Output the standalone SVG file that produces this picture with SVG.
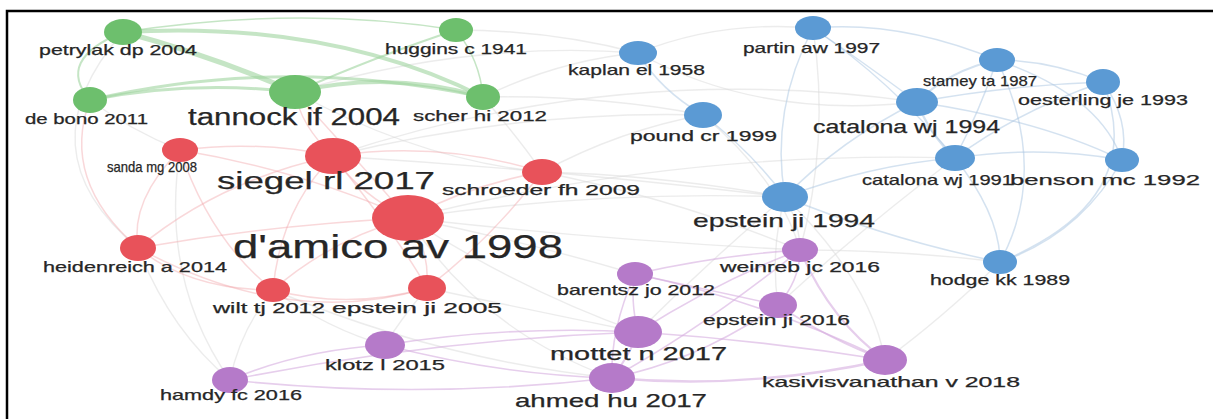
<svg xmlns="http://www.w3.org/2000/svg" width="1215" height="419" viewBox="0 0 1215 419">
  <style>
    text { font-family: "Liberation Sans", Arial, sans-serif; fill: #262626; stroke: #262626; stroke-width: 0.25; }
    .s { font-size: 14.5px; }
    .m { font-size: 19px; }
    .l { font-size: 23px; }
    .xl { font-size: 34px; }
    .e { fill: none; stroke-linecap: round; }
    .eg { stroke: #9fd49f; stroke-opacity: 0.6; }
    .er { stroke: #f2a9ad; stroke-opacity: 0.45; stroke-width: 1.5; }
    .eb { stroke: #a9c6e2; stroke-opacity: 0.5; stroke-width: 1.5; }
    .ep { stroke: #d6aee0; stroke-opacity: 0.6; stroke-width: 1.6; }
    .ex { stroke: #d9d9d9; stroke-opacity: 0.5; stroke-width: 1.4; }
    .ng { fill: #6dbf6d; }
    .nr { fill: #e8525a; }
    .nb { fill: #5b9ad4; }
    .np { fill: #b57ac9; }
  </style>

  <rect width="1215" height="419" fill="#ffffff"/>
  <path d="M7,419 V11 H1213" fill="none" stroke="#000" stroke-width="2.5"/>

  <g id="connectors" class="e">
    <!-- links between clusters -->
    <g class="ex">
      <path d="M408,218 Q600,190 785,197"/>
      <path d="M408,218 Q520,290 638,332"/>
      <path d="M333,156 Q520,110 703,115"/>
      <path d="M542,172 Q660,175 785,197"/>
      <path d="M542,172 Q620,130 703,115"/>
      <path d="M408,218 Q600,240 800,250"/>
      <path d="M483,97 Q600,95 703,115"/>
      <path d="M483,97 Q560,60 638,53"/>
      <path d="M273,290 Q240,330 230,380"/>
      <path d="M138,248 Q170,330 230,380"/>
      <path d="M427,288 Q400,320 385,345"/>
      <path d="M408,218 Q520,240 635,274"/>
      <path d="M785,197 Q800,225 800,250"/>
      <path d="M785,197 Q770,250 778,305"/>
      <path d="M333,156 Q620,60 917,102"/>
      <path d="M295,92 Q470,40 638,53"/>
      <path d="M408,218 Q680,150 955,158"/>
      <path d="M638,332 Q710,260 785,197"/>
      <path d="M638,53 Q720,20 813,28"/>
      <path d="M456,30 Q550,30 638,53"/>
      <path d="M273,290 Q330,330 385,345"/>
      <path d="M408,218 Q480,330 612,378"/>
      <path d="M427,288 Q530,310 638,332"/>
      <path d="M542,172 Q680,200 800,250"/>
      <path d="M785,197 Q870,280 885,360"/>
      <path d="M1000,262 Q900,250 800,250"/>
      <path d="M1000,262 Q940,320 885,360"/>
      <path d="M955,158 Q860,230 778,305"/>
      <path d="M90,100 Q130,130 180,150"/>
      <path d="M123,32 Q20,150 138,248"/>
      <path d="M180,150 Q160,280 230,380"/>
      <path d="M273,290 Q440,360 612,378"/>
      <path d="M333,156 Q560,170 785,197"/>
      <path d="M703,115 Q780,180 800,250"/>
      <path d="M813,28 Q830,140 800,250"/>
      <path d="M638,53 Q760,120 917,102"/>
      <path d="M483,97 Q520,140 542,172"/>
      <path d="M295,92 Q420,160 542,172"/>
    </g>
    <!-- green cluster -->
    <g class="eg">
      <path d="M123,32 Q210,55 295,92" stroke-width="5"/>
      <path d="M123,32 Q330,20 483,97" stroke-width="4"/>
      <path d="M90,100 Q190,80 295,92" stroke-width="3"/>
      <path d="M90,100 Q280,55 483,97" stroke-width="3"/>
      <path d="M90,100 Q55,60 123,32" stroke-width="2"/>
      <path d="M295,92 Q390,70 483,97" stroke-width="4"/>
      <path d="M295,92 Q380,55 456,30" stroke-width="2"/>
      <path d="M123,32 Q300,5 456,30" stroke-width="1.5"/>
      <path d="M456,30 Q480,60 483,97" stroke-width="1.5"/>
    </g>
    <!-- red cluster -->
    <g class="er">
      <path d="M333,156 Q360,195 408,218"/>
      <path d="M180,150 Q300,170 408,218"/>
      <path d="M542,172 Q470,185 408,218"/>
      <path d="M138,248 Q270,225 408,218"/>
      <path d="M273,290 Q330,240 408,218"/>
      <path d="M427,288 Q430,250 408,218"/>
      <path d="M180,150 Q260,140 333,156"/>
      <path d="M333,156 Q440,140 542,172"/>
      <path d="M138,248 Q220,180 333,156"/>
      <path d="M138,248 Q190,290 273,290"/>
      <path d="M273,290 Q350,310 427,288"/>
      <path d="M333,156 Q400,240 427,288"/>
      <path d="M138,248 Q290,330 427,288"/>
      <path d="M180,150 Q130,200 138,248"/>
      <path d="M180,150 Q210,240 273,290"/>
      <path d="M542,172 Q490,240 427,288"/>
      <path d="M273,290 Q280,210 333,156"/>
      <path d="M408,218 Q330,130 295,92"/>
      <path d="M333,156 Q300,125 295,92"/>
      <path d="M138,248 Q60,180 90,100"/>
    </g>
    <!-- blue cluster -->
    <g class="eb">
      <path d="M917,102 Q950,70 997,60" stroke-width="2.2"/>
      <path d="M917,102 Q1010,85 1103,82"/>
      <path d="M917,102 Q930,135 955,158" stroke-width="2.2"/>
      <path d="M955,158 Q1040,145 1122,160"/>
      <path d="M997,60 Q1050,60 1103,82"/>
      <path d="M1103,82 Q1130,120 1122,160"/>
      <path d="M1122,160 Q1080,235 1000,262"/>
      <path d="M955,158 Q1000,215 1000,262"/>
      <path d="M785,197 Q840,140 917,102"/>
      <path d="M785,197 Q870,165 955,158"/>
      <path d="M813,28 Q770,110 785,197"/>
      <path d="M813,28 Q890,80 955,158"/>
      <path d="M997,60 Q1100,95 1122,160"/>
      <path d="M917,102 Q1040,120 1122,160"/>
      <path d="M997,60 Q980,110 955,158"/>
      <path d="M785,197 Q890,240 1000,262"/>
      <path d="M703,115 Q750,150 785,197"/>
      <path d="M638,53 Q660,90 703,115"/>
      <path d="M813,28 Q860,60 917,102"/>
      <path d="M1103,82 Q1020,110 955,158"/>
      <path d="M1103,82 Q1150,200 1000,262"/>
      <path d="M997,60 Q1050,170 1000,262"/>
      <path d="M813,28 Q900,20 997,60"/>
    </g>
    <!-- purple cluster -->
    <g class="ep">
      <path d="M800,250 Q830,320 885,360" stroke-width="2.2"/>
      <path d="M800,250 Q800,280 778,305"/>
      <path d="M800,250 Q720,280 638,332"/>
      <path d="M800,250 Q700,330 612,378"/>
      <path d="M778,305 Q830,340 885,360"/>
      <path d="M635,274 Q630,300 638,332"/>
      <path d="M638,332 Q630,355 612,378" stroke-width="2.2"/>
      <path d="M612,378 Q750,390 885,360" stroke-width="2.4"/>
      <path d="M638,332 Q760,340 885,360"/>
      <path d="M385,345 Q500,375 612,378"/>
      <path d="M230,380 Q420,400 612,378"/>
      <path d="M230,380 Q300,350 385,345"/>
      <path d="M778,305 Q700,360 612,378"/>
      <path d="M635,274 Q720,255 800,250"/>
      <path d="M385,345 Q510,325 638,332"/>
      <path d="M635,274 Q710,290 778,305"/>
      <path d="M635,274 Q610,330 612,378"/>
      <path d="M635,274 Q760,300 885,360"/>
      <path d="M230,380 Q430,340 638,332"/>
    </g>
  </g>

  <!-- green cluster -->
  <g id="petrylak-dp-2004"><ellipse class="ng" cx="123" cy="32" rx="19" ry="13"/><text class="s" x="39" y="55" textLength="158" lengthAdjust="spacingAndGlyphs">petrylak dp 2004</text></g>
  <g id="de-bono-2011"><ellipse class="ng" cx="90" cy="100" rx="17" ry="13"/><text class="s" x="25" y="124" textLength="123" lengthAdjust="spacingAndGlyphs">de bono 2011</text></g>
  <g id="tannock-if-2004"><ellipse class="ng" cx="295" cy="92" rx="26" ry="17"/><text class="l" x="188" y="125" textLength="212" lengthAdjust="spacingAndGlyphs">tannock if 2004</text></g>
  <g id="huggins-c-1941"><ellipse class="ng" cx="456" cy="30" rx="17" ry="12"/><text class="s" x="385" y="54" textLength="142" lengthAdjust="spacingAndGlyphs">huggins c 1941</text></g>
  <g id="scher-hi-2012"><ellipse class="ng" cx="483" cy="97" rx="17" ry="13"/><text class="s" x="413" y="121" textLength="134" lengthAdjust="spacingAndGlyphs">scher hi 2012</text></g>

  <!-- red cluster -->
  <g id="sanda-mg-2008"><ellipse class="nr" cx="180" cy="150" rx="18" ry="12"/><text class="s" x="107" y="172" textLength="90" lengthAdjust="spacingAndGlyphs" font-size="13.5">sanda mg 2008</text></g>
  <g id="siegel-rl-2017"><ellipse class="nr" cx="333" cy="156" rx="28" ry="18"/><text class="l" x="217" y="189" textLength="218" lengthAdjust="spacingAndGlyphs">siegel rl 2017</text></g>
  <g id="damico-av-1998"><ellipse class="nr" cx="408" cy="218" rx="36" ry="23"/><text class="xl" x="233" y="258" textLength="330" lengthAdjust="spacingAndGlyphs">d'amico av 1998</text></g>
  <g id="schroeder-fh-2009"><ellipse class="nr" cx="542" cy="172" rx="20" ry="13"/><text class="s" x="442" y="195" textLength="198" lengthAdjust="spacingAndGlyphs">schroeder fh 2009</text></g>
  <g id="heidenreich-a-2014"><ellipse class="nr" cx="138" cy="248" rx="18" ry="13"/><text class="s" x="43" y="272" textLength="184" lengthAdjust="spacingAndGlyphs">heidenreich a 2014</text></g>
  <g id="wilt-tj-2012"><ellipse class="nr" cx="273" cy="290" rx="17" ry="12"/><text class="s" x="213" y="313" textLength="112" lengthAdjust="spacingAndGlyphs">wilt tj 2012</text></g>
  <g id="epstein-ji-2005"><ellipse class="nr" cx="427" cy="288" rx="19" ry="13"/><text class="s" x="332" y="313" textLength="170" lengthAdjust="spacingAndGlyphs">epstein ji 2005</text></g>

  <!-- blue cluster -->
  <g id="kaplan-el-1958"><ellipse class="nb" cx="638" cy="53" rx="19" ry="12"/><text class="s" x="568" y="75" textLength="137" lengthAdjust="spacingAndGlyphs">kaplan el 1958</text></g>
  <g id="partin-aw-1997"><ellipse class="nb" cx="813" cy="28" rx="18" ry="12"/><text class="s" x="743" y="53" textLength="137" lengthAdjust="spacingAndGlyphs">partin aw 1997</text></g>
  <g id="pound-cr-1999"><ellipse class="nb" cx="703" cy="115" rx="19" ry="13"/><text class="s" x="630" y="141" textLength="147" lengthAdjust="spacingAndGlyphs">pound cr 1999</text></g>
  <g id="stamey-ta-1987"><ellipse class="nb" cx="997" cy="60" rx="18" ry="12"/><text class="s" x="923" y="86" textLength="114" lengthAdjust="spacingAndGlyphs">stamey ta 1987</text></g>
  <g id="oesterling-je-1993"><ellipse class="nb" cx="1103" cy="82" rx="17" ry="13"/><text class="s" x="1018" y="105" textLength="170" lengthAdjust="spacingAndGlyphs">oesterling je 1993</text></g>
  <g id="catalona-wj-1994"><ellipse class="nb" cx="917" cy="102" rx="21" ry="14"/><text class="m" x="813" y="133" textLength="187" lengthAdjust="spacingAndGlyphs">catalona wj 1994</text></g>
  <g id="catalona-wj-1991"><ellipse class="nb" cx="955" cy="158" rx="20" ry="13"/><text class="s" x="862" y="185" textLength="151" lengthAdjust="spacingAndGlyphs">catalona wj 1991</text></g>
  <g id="benson-mc-1992"><ellipse class="nb" cx="1122" cy="160" rx="17" ry="12"/><text class="s" x="1010" y="185" textLength="190" lengthAdjust="spacingAndGlyphs">benson mc 1992</text></g>
  <g id="epstein-ji-1994"><ellipse class="nb" cx="785" cy="197" rx="23" ry="15"/><text class="m" x="693" y="227" textLength="182" lengthAdjust="spacingAndGlyphs">epstein ji 1994</text></g>
  <g id="hodge-kk-1989"><ellipse class="nb" cx="1000" cy="262" rx="17" ry="12"/><text class="s" x="930" y="285" textLength="140" lengthAdjust="spacingAndGlyphs">hodge kk 1989</text></g>

  <!-- purple cluster -->
  <g id="weinreb-jc-2016"><ellipse class="np" cx="800" cy="250" rx="18" ry="12"/><text class="s" x="720" y="272" textLength="160" lengthAdjust="spacingAndGlyphs">weinreb jc 2016</text></g>
  <g id="barentsz-jo-2012"><ellipse class="np" cx="635" cy="274" rx="18" ry="12"/><text class="s" x="557" y="295" textLength="158" lengthAdjust="spacingAndGlyphs">barentsz jo 2012</text></g>
  <g id="epstein-ji-2016"><ellipse class="np" cx="778" cy="305" rx="19" ry="13"/><text class="s" x="703" y="325" textLength="147" lengthAdjust="spacingAndGlyphs">epstein ji 2016</text></g>
  <g id="mottet-n-2017"><ellipse class="np" cx="638" cy="332" rx="24" ry="16"/><text class="m" x="550" y="360" textLength="177" lengthAdjust="spacingAndGlyphs" font-size="20">mottet n 2017</text></g>
  <g id="ahmed-hu-2017"><ellipse class="np" cx="612" cy="378" rx="23" ry="15"/><text class="m" x="515" y="407" textLength="192" lengthAdjust="spacingAndGlyphs">ahmed hu 2017</text></g>
  <g id="klotz-l-2015"><ellipse class="np" cx="385" cy="345" rx="20" ry="14"/><text class="s" x="325" y="370" textLength="120" lengthAdjust="spacingAndGlyphs">klotz l 2015</text></g>
  <g id="hamdy-fc-2016"><ellipse class="np" cx="230" cy="380" rx="18" ry="13"/><text class="s" x="160" y="400" textLength="142" lengthAdjust="spacingAndGlyphs">hamdy fc 2016</text></g>
  <g id="kasivisvanathan-v-2018"><ellipse class="np" cx="885" cy="360" rx="22" ry="15"/><text class="s" x="762" y="387" textLength="258" lengthAdjust="spacingAndGlyphs" font-size="17">kasivisvanathan v 2018</text></g>
</svg>
